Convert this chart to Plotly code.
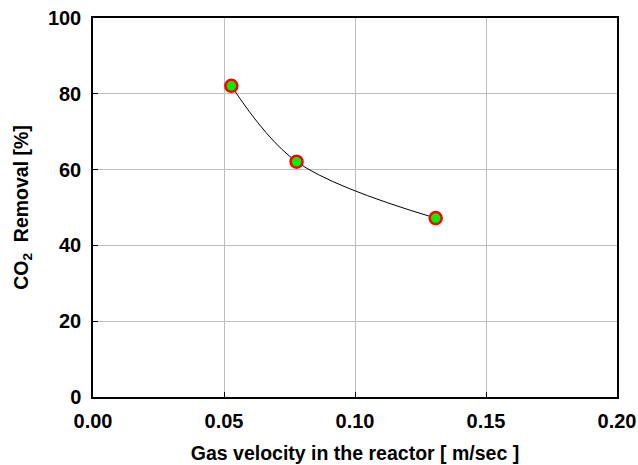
import plotly.graph_objects as go

velocity = [0.0528, 0.0777, 0.1308]
removal = [82.1, 62.1, 47.2]
x_ticks = [0.00, 0.05, 0.10, 0.15, 0.20]
x_tick_labels = ["0.00", "0.05", "0.10", "0.15", "0.20"]
y_ticks = [0, 20, 40, 60, 80, 100]

FONT = "Liberation Sans, Arial, sans-serif"

fig = go.Figure()
fig.add_trace(go.Scatter(
    x=velocity, y=removal, mode="lines+markers",
    line=dict(color="black", width=1, shape="spline", smoothing=1),
    marker=dict(size=12, color="#00f000", line=dict(color="#ff0000", width=2.5)),
    showlegend=False,
))

fig.update_layout(
    width=638, height=465,
    margin=dict(l=93, r=21, t=18, b=68, autoexpand=False),
    paper_bgcolor="white", plot_bgcolor="white",
    font=dict(family=FONT, color="black"),
    xaxis=dict(
        range=[0, 0.2], tickvals=x_ticks, ticktext=x_tick_labels,
        automargin=False,
        showgrid=True, gridcolor="#bdbdbd", gridwidth=1,
        showline=True, linecolor="black", linewidth=1.5, mirror=True,
        ticks="inside", ticklen=5, tickcolor="black",
        tickfont=dict(size=20, family=FONT, weight="bold"),
        ticklabelstandoff=5,
        zeroline=False,
        title=dict(text="<b>Gas velocity in the reactor [ m/sec ]</b>",
                   font=dict(size=19.5, family=FONT), standoff=16),
    ),
    yaxis=dict(
        range=[0, 100], tickvals=y_ticks,
        automargin=False,
        showgrid=True, gridcolor="#bdbdbd", gridwidth=1,
        showline=True, linecolor="black", linewidth=1.5, mirror=True,
        ticks="inside", ticklen=5, tickcolor="black",
        tickfont=dict(size=20, family=FONT, weight="bold"),
        ticklabelstandoff=6,
        zeroline=False,
        title=dict(text="<b>CO<sub>2</sub>  Removal [%]</b>",
                   font=dict(size=19.5, family=FONT), standoff=14),
    ),
)

fig.write_html("out.html", config={"displayModeBar": False},
               post_script="document.body.style.margin='0';")
